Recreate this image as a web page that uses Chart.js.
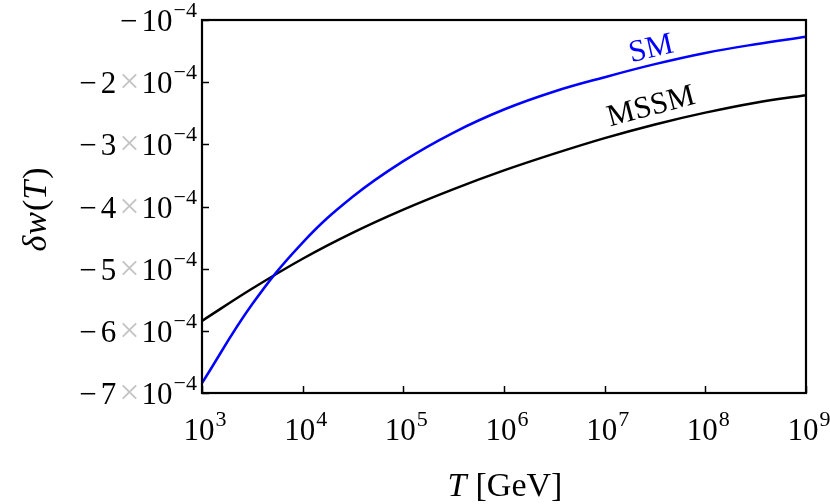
<!DOCTYPE html>
<html>
<head>
<meta charset="utf-8">
<script src="https://cdn.jsdelivr.net/npm/chart.js@4/dist/chart.umd.min.js"></script>
<style>
    html, body { margin: 0; padding: 0; background: #fff; }
    #wrap { width: 830px; height: 504px; }
</style>
</head>
<body>
<div id="wrap"><canvas id="dwChart" width="830" height="504"></canvas></div>
<script>
// Temperatures (GeV), half-decade steps
const temps = [1e3, 3.16e3, 1e4, 3.16e4, 1e5, 3.16e5, 1e6, 3.16e6, 1e7, 3.16e7, 1e8, 3.16e8, 1e9];

// delta w(T)
const smValues = [-6.84e-4, -5.57e-4, -4.58e-4, -3.84e-4, -3.27e-4, -2.81e-4, -2.44e-4,
                  -2.15e-4, -1.92e-4, -1.71e-4, -1.53e-4, -1.39e-4, -1.27e-4];
const mssmValues = [-5.84e-4, -5.32e-4, -4.84e-4, -4.42e-4, -4.05e-4, -3.72e-4, -3.42e-4,
                    -3.15e-4, -2.90e-4, -2.68e-4, -2.49e-4, -2.33e-4, -2.21e-4];

// Tick values
const xTicks = [1e3, 1e4, 1e5, 1e6, 1e7, 1e8, 1e9];
const xTickExps = ['3', '4', '5', '6', '7', '8', '9'];
const yTicks = [-1e-4, -2e-4, -3e-4, -4e-4, -5e-4, -6e-4, -7e-4];
const yTickMantissas = ['', '2', '3', '4', '5', '6', '7'];

const FONT = '"Liberation Serif", "DejaVu Serif", serif';

/**
 * Draw a row of text pieces (normal / italic / superscript)
 */
function drawPieces(ctx, pieces, x, y, align) {
    let total = 0;
    pieces.forEach(p => {
        ctx.font = (p.italic ? 'italic ' : '') + p.size + 'px ' + FONT;
        p.w = ctx.measureText(p.text).width + (p.gap || 0) + (p.pre || 0);
        total += p.w;
    });
    let cx = align === 'right' ? x - total : (align === 'center' ? x - total / 2 : x);
    pieces.forEach(p => {
        ctx.font = (p.italic ? 'italic ' : '') + p.size + 'px ' + FONT;
        ctx.fillStyle = p.color || '#000';
        ctx.textAlign = 'left';
        ctx.textBaseline = 'alphabetic';
        ctx.fillText(p.text, cx + (p.pre || 0), y - (p.rise || 0));
        cx += p.w;
    });
}

const decorPlugin = {
    id: 'decor',
    afterDraw(chart) {
        const { ctx, chartArea: a, scales: { x, y } } = chart;
        ctx.save();

        // inward ticks on left and bottom
        ctx.strokeStyle = '#000';
        ctx.lineWidth = 1.5;
        xTicks.forEach(v => {
            const px = Math.round(x.getPixelForValue(v)) + 0.5;
            ctx.beginPath();
            ctx.moveTo(px, a.bottom);
            ctx.lineTo(px, a.bottom - 7);
            ctx.stroke();
        });
        yTicks.forEach(v => {
            const py = Math.round(y.getPixelForValue(v)) + 0.5;
            ctx.beginPath();
            ctx.moveTo(a.left, py);
            ctx.lineTo(a.left + 7, py);
            ctx.stroke();
        });

        // frame
        ctx.lineWidth = 2.2;
        ctx.strokeRect(a.left, a.top, a.right - a.left, a.bottom - a.top);

        // x tick labels
        xTicks.forEach((v, i) => {
            const px = x.getPixelForValue(v);
            drawPieces(ctx, [
                { text: '10', size: 31 },
                { text: xTickExps[i], size: 22, rise: 14, pre: 1 }
            ], px + 3, a.bottom + 47, 'center');
        });

        // y tick labels
        yTicks.forEach((v, i) => {
            const py = y.getPixelForValue(v);
            const pieces = [{ text: '\u2212', size: 31, gap: 4 }];
            if (yTickMantissas[i]) {
                pieces.push({ text: yTickMantissas[i], size: 31, gap: 3 });
                pieces.push({ text: '\u00d7', size: 36, color: '#c4c4c4', gap: 2 });
            }
            pieces.push({ text: '10', size: 31 });
            pieces.push({ text: '\u2212', size: 22, rise: 14, pre: 1 });
            pieces.push({ text: '4', size: 22, rise: 14 });
            drawPieces(ctx, pieces, a.left - 5, py + 11, 'right');
        });

        // x axis title
        drawPieces(ctx, [
            { text: 'T', size: 34, italic: true, gap: 9 },
            { text: '[GeV]', size: 34 }
        ], (a.left + a.right) / 2 + 1, 496, 'center');

        // y axis title
        ctx.save();
        ctx.translate(46, (a.top + a.bottom) / 2 + 3);
        ctx.rotate(-Math.PI / 2);
        drawPieces(ctx, [
            { text: '\u03b4', size: 34, italic: true, gap: 1 },
            { text: 'w', size: 34, italic: true, gap: 1 },
            { text: '(', size: 34 },
            { text: 'T', size: 34, italic: true, gap: 2 },
            { text: ')', size: 34 }
        ], 0, 0, 'center');
        ctx.restore();

        // curve labels
        ctx.save();
        ctx.translate(x.getPixelForValue(2.9e7), y.getPixelForValue(-1.47e-4));
        ctx.rotate(-13 * Math.PI / 180);
        ctx.font = '31px ' + FONT;
        ctx.fillStyle = '#0000ff';
        ctx.textAlign = 'center';
        ctx.textBaseline = 'middle';
        ctx.fillText('SM', 0, 0);
        ctx.restore();

        ctx.save();
        ctx.translate(x.getPixelForValue(2.9e7), y.getPixelForValue(-2.40e-4));
        ctx.rotate(-15 * Math.PI / 180);
        ctx.font = '31px ' + FONT;
        ctx.fillStyle = '#000';
        ctx.textAlign = 'center';
        ctx.textBaseline = 'middle';
        ctx.fillText('MSSM', 0, 0);
        ctx.restore();

        ctx.restore();
    }
};

const dwChart = new Chart(document.getElementById('dwChart'), {
    type: 'line',
    data: {
        labels: temps,
        datasets: [
            {
                label: 'SM',
                data: temps.map((t, i) => ({ x: t, y: smValues[i] })),
                borderColor: '#0000ff',
                borderWidth: 2.5,
                pointRadius: 0,
                tension: 0.4,
                fill: false
            },
            {
                label: 'MSSM',
                data: temps.map((t, i) => ({ x: t, y: mssmValues[i] })),
                borderColor: '#000000',
                borderWidth: 2.5,
                pointRadius: 0,
                tension: 0.4,
                fill: false
            }
        ]
    },
    options: {
        responsive: false,
        animation: false,
        layout: { padding: { top: 20, right: 24, left: 0, bottom: 0 } },
        plugins: {
            legend: { display: false },
            tooltip: { enabled: false },
            title: { display: false }
        },
        scales: {
            x: {
                type: 'logarithmic',
                min: 1e3,
                max: 1e9,
                grid: { display: false },
                border: { display: false },
                ticks: { display: false },
                afterFit: scale => { scale.height = 111; }
            },
            y: {
                type: 'linear',
                min: -7e-4,
                max: -1e-4,
                grid: { display: false },
                border: { display: false },
                ticks: { display: false },
                afterFit: scale => { scale.width = 202; }
            }
        }
    },
    plugins: [decorPlugin]
});
</script>
</body>
</html>
